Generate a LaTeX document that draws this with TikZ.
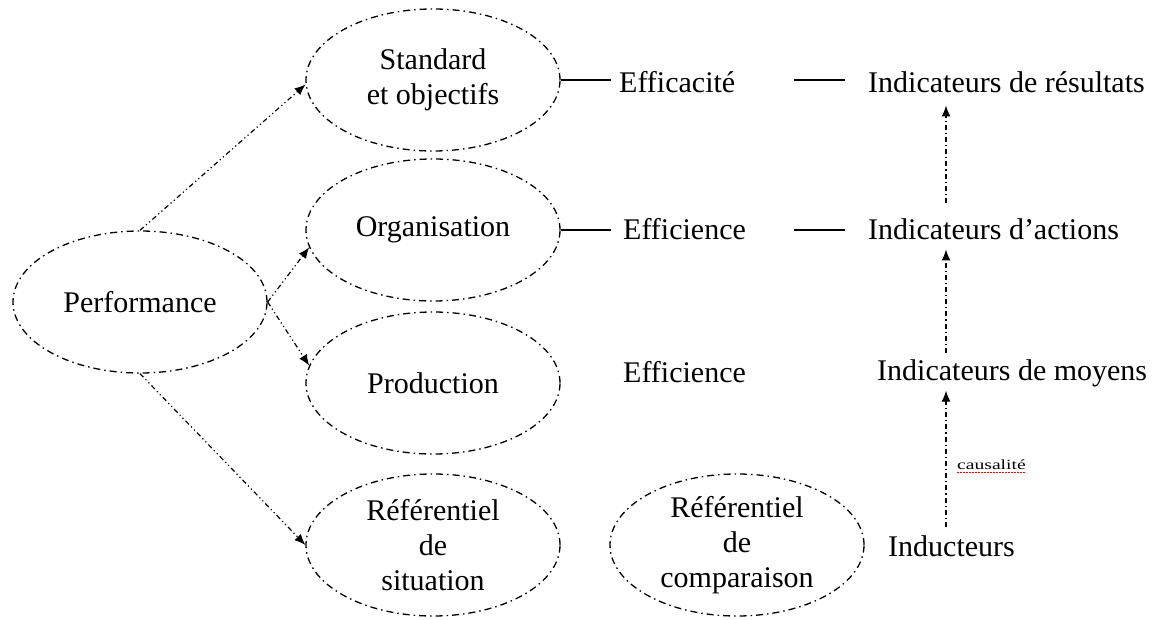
\documentclass[tikz,border=0pt]{standalone}
\usepackage{fontspec}
\setmainfont{Liberation Serif}
\usetikzlibrary{shapes.geometric,arrows.meta}
\begin{document}
\begin{tikzpicture}[x=1pt,y=-1pt,
  oval/.style={ellipse, draw, line width=1.3pt,
    dash pattern=on 7pt off 4pt on 1.5pt off 4pt,
    minimum width=254pt, minimum height=142pt, inner sep=0pt},
  txt/.style={inner sep=0pt, align=center, font=\fontsize{30}{35}\selectfont},
  lbl/.style={inner sep=0pt, anchor=base west, font=\fontsize{30}{35}\selectfont},
  link/.style={line width=1.2pt,
    dash pattern=on 5pt off 3pt on 1.2pt off 3pt on 1.2pt off 3pt,
    -{Latex[length=11pt,width=9pt]}},
  up/.style={line width=1.2pt,
    dash pattern=on 5pt off 3pt on 1.2pt off 3pt,
    -{Latex[length=11pt,width=9pt]}},
  tie/.style={line width=1.6pt}
]
\useasboundingbox (0,0) rectangle (1155,620);

% ovals of the left part
\node[oval] (perf) at (140,302) {};
\node[txt]  (perft) at (perf) {Performance};
\node[oval] (std)  at (433,80) {};
\node[txt]  (stdt) at (std) {Standard\\et objectifs};
\node[oval] (org)  at (433,230) {};
\node[txt]  (orgt) at (org) {Organisation};
\node[oval] (prod) at (433,383) {};
\node[txt]  (prodt) at (prod) {Production};
\node[oval] (refs) at (433,545) {};
\node[txt]  (refst) at (refs) {Référentiel\\de\\situation};
\node[oval] (refc) at (737,545) {};
\node[txt]  (refct) at (refc) {Référentiel\\de\\comparaison};

% labels of the right part
\node[lbl] (effa) at (619,93)  {Efficacité};
\node[lbl] (res)  at (868,93)  {Indicateurs de résultats};
\node[lbl] (eff1) at (623,240) {Efficience};
\node[lbl] (act)  at (868,240) {Indicateurs d'actions};
\node[lbl] (eff2) at (623,382) {Efficience};
\node[lbl] (moy)  at (877,380) {Indicateurs de moyens};
\node[lbl] (ind)  at (888,556) {Inducteurs};

% arrows leaving Performance
\draw[link] (perf.north) -- (std.182);
\draw[link] (perf.east) -- (org.188);
\draw[link] (perf.east) -- (prod.172);
\draw[link] (perf.south) -- (refs.west);

% solid ties
\draw[tie] (std.east) -- ([xshift=-8pt]effa.west |- std.east);
\draw[tie] ([xshift=-74pt]res.west |- std.east) -- ([xshift=-23pt]res.west |- std.east);
\draw[tie] (org.east) -- ([xshift=-12pt]eff1.west |- org.east);
\draw[tie] ([xshift=-74pt]act.west |- org.east) -- ([xshift=-23pt]act.west |- org.east);

% chain of indicators
\coordinate (ax) at ([xshift=58pt]ind.west);
\draw[up, shorten <=8pt, shorten >=4pt] (ax |- ind.north) -- (ax |- moy.south);
\draw[up, shorten <=6pt, shorten >=9pt] (ax |- moy.north) -- (ax |- act.south);
\draw[up, shorten <=16pt, shorten >=12pt] (ax |- act.north) -- (ax |- res.south);

% small note beside the lowest arrow
\node[inner sep=0pt, anchor=base west, font=\fontsize{14}{16}\selectfont] (cau) at (957,469)
  {\scalebox{1.4}[1]{causalité}};
\draw[red, line width=1pt, dash pattern=on 1.5pt off 1.5pt]
  ([yshift=-3pt]cau.base west) -- ([yshift=-3pt]cau.base east);
\end{tikzpicture}
\end{document}
